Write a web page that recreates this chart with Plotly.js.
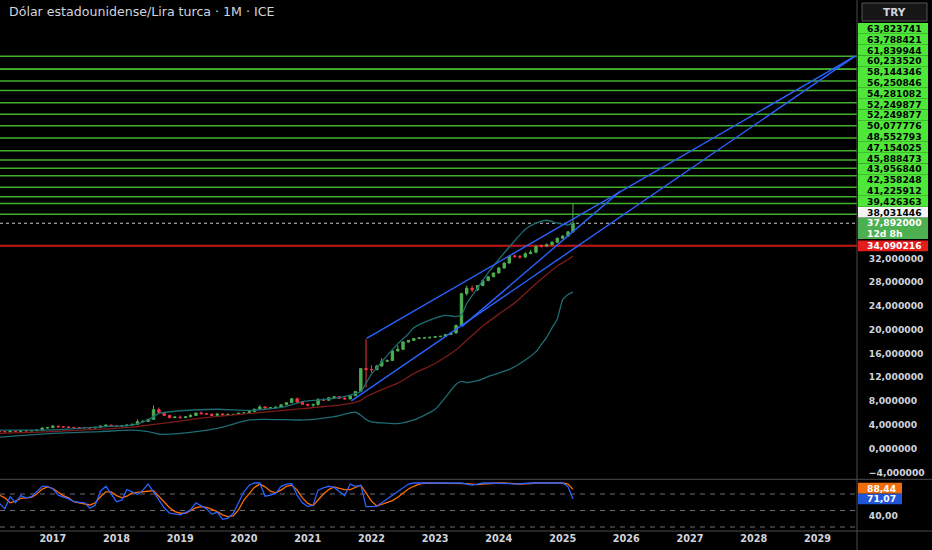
<!DOCTYPE html>
<html><head><meta charset="utf-8">
<script src="https://cdn.plot.ly/plotly-3.0.1.min.js"></script>
<style>html,body{margin:0;padding:0;background:#000;}#chart{width:932px;height:550px;}</style>
</head><body><div id="chart"></div>
<script>
// ---------- DATA ----------
const titleText = 'Dólar estadounidense/Lira turca · 1M · ICE';
const currencyLabel = 'TRY';
const startYear = 2016, startMonth = 3;   // first monthly candle: Mar 2016

const openV = [2.90,2.83,2.80,2.92,2.88,3.00,2.96,3.00,3.10,3.43,
 3.52,3.77,3.64,3.63,3.54,3.53,3.52,3.51,3.45,3.56,3.80,3.93,
 3.79,3.77,3.80,3.95,4.07,4.51,4.56,4.91,6.54,6.05,5.57,5.19,
 5.29,5.18,5.33,5.55,5.97,5.84,5.79,5.57,5.82,5.65,5.72,5.74,
 5.95,5.97,6.22,6.61,7.00,6.81,6.85,6.97,7.35,7.71,8.36,7.83,
 7.43,7.30,7.42,8.24,8.12,8.54,8.70,8.46,8.33,8.86,9.58,13.45,
 13.28,13.25,13.87,14.67,14.82,16.42,16.69,17.93,18.19,18.51,18.60,18.62,
 18.71,18.80,18.88,19.17,19.43,20.71,26.05,26.97,26.69,27.41,28.24,28.89,
 29.53,30.35,31.20,32.40,32.32,32.20,32.78,33.03,34.10,34.05,34.29,34.70,
 35.36,35.73,36.45];
const highV = [2.94,2.87,2.99,2.96,3.08,3.00,3.02,3.13,3.59,3.59,
 3.94,3.78,3.74,3.76,3.63,3.57,3.59,3.56,3.59,3.84,3.99,3.94,
 3.82,3.82,3.99,4.13,4.92,4.80,4.97,7.24,6.90,6.12,5.67,5.45,
 5.57,5.38,5.84,6.02,6.24,5.96,5.80,5.92,5.83,5.94,5.80,5.97,
 6.00,6.23,6.71,7.27,7.05,6.90,6.99,7.43,7.80,8.49,8.58,7.98,
 7.48,7.47,8.48,8.47,8.64,8.79,8.80,8.65,8.92,9.64,13.52,18.36,
 14.04,14.05,15.20,14.95,16.50,17.38,18.00,18.25,18.56,18.68,18.68,18.76,
 18.85,18.94,19.20,19.50,20.86,26.20,27.40,27.39,27.47,28.41,28.96,29.58,
 30.57,31.33,32.51,32.67,32.55,33.00,33.40,34.20,34.30,34.50,34.90,35.50,
 35.90,36.60,41.20];
const lowV = [2.82,2.78,2.80,2.86,2.87,2.89,2.92,2.98,3.08,3.36,
 3.51,3.59,3.58,3.54,3.50,3.49,3.51,3.44,3.39,3.55,3.80,3.75,
 3.72,3.73,3.78,3.93,4.05,4.50,4.55,4.91,5.98,5.56,5.13,5.18,
 5.15,5.16,5.28,5.54,5.80,5.69,5.51,5.48,5.60,5.64,5.67,5.70,
 5.85,5.95,6.10,6.60,6.73,6.76,6.84,6.96,7.34,7.70,7.59,7.38,
 7.10,6.92,7.19,8.02,8.10,8.41,8.36,8.29,8.32,8.86,9.51,10.25,
 12.75,13.20,13.80,14.55,14.80,16.30,16.60,17.80,18.10,18.40,18.50,18.55,
 18.68,18.76,18.86,19.15,19.40,20.65,25.75,26.30,26.50,27.30,28.20,28.85,
 29.46,30.28,31.11,32.05,31.95,32.10,32.70,32.80,33.80,34.00,34.20,34.60,
 35.20,35.60,36.30];
const closeV = [2.83,2.80,2.92,2.88,3.00,2.96,3.00,3.10,3.43,3.52,
 3.77,3.64,3.63,3.54,3.53,3.52,3.51,3.45,3.56,3.80,3.93,3.79,
 3.77,3.80,3.95,4.07,4.51,4.56,4.91,6.54,6.05,5.57,5.19,5.29,
 5.18,5.33,5.55,5.97,5.84,5.79,5.57,5.82,5.65,5.72,5.74,5.95,
 5.97,6.22,6.61,7.00,6.81,6.85,6.97,7.35,7.71,8.36,7.83,7.43,
 7.30,7.42,8.24,8.12,8.54,8.70,8.46,8.33,8.86,9.58,13.45,13.28,
 13.25,13.87,14.67,14.82,16.42,16.69,17.93,18.19,18.51,18.60,18.62,18.71,
 18.80,18.88,19.17,19.43,20.71,26.05,26.97,26.69,27.41,28.24,28.89,29.53,
 30.35,31.20,32.35,32.32,32.20,32.78,33.03,33.98,34.05,34.29,34.70,35.36,
 35.73,36.45,37.89];

// Bollinger-type bands (month index -> value)
const bbUpperIdx = [0,10,19,25,28,30,34,41,47,50,54,57,60,63,66,68,69,70,71,72,75,77,78,81,84,86,87,88,90,91,92,94,96,99,101,103,105,107,108];
const bbUpperVal = [3.10,3.12,3.65,3.95,4.8,5.9,6.35,6.6,6.4,6.6,7.1,7.9,8.15,8.45,9.0,9.6,11.0,12.5,13.6,14.6,17.6,19.3,20.3,21.6,22.4,22.2,22.5,24.4,27.0,28.3,29.6,31.8,33.9,36.9,37.9,38.4,37.9,37.6,37.9];
const bbLowerIdx = [0,10,19,25,28,30,34,41,47,50,54,57,60,63,66,67,68,69,70,72,75,78,82,84,86,87,88,90,92,94,96,99,101,102,103,104,105,106,107,108];
const bbLowerVal = [1.9,2.55,2.85,3.1,2.85,2.4,2.55,3.4,4.8,4.9,4.85,4.8,5.0,5.35,6.0,6.1,5.6,4.9,4.5,4.3,4.2,4.8,6.6,8.6,10.8,11.3,11.1,11.4,12.1,12.7,13.3,14.9,16.3,17.5,18.7,20.3,21.8,25.0,25.9,26.3];
const bbBasisIdx = [0,10,19,25,28,34,38,47,57,63,66,68,69,72,75,78,82,86,88,91,94,97,100,102,105,107,108];
const bbBasisVal = [2.55,2.85,3.25,3.6,3.95,4.6,5.1,5.9,6.7,7.2,7.6,8.1,8.7,9.9,11.0,12.6,14.3,16.6,18.2,20.6,22.6,24.5,26.9,28.5,30.7,31.8,32.4];

// Drawn trend lines
const trendADates = ['2021-12-04','2029-08-04']; const trendAVals = [18.54, 66.0];
const trendBDates = ['2023-06-03','2025-11-28']; const trendBVals = [20.5, 43.3];
const trendCDates = ['2021-09-08','2029-08-04']; const trendCVals = [8.0, 66.0];

// Horizontal levels
const greenLevels = [65.98,63.823741,63.788421,61.839944,60.233520,58.144346,56.250846,54.281082,52.249877,50.077776,48.552793,47.154025,45.888473,43.956840,42.358248,41.225912,39.426363];
const greenLabelLevels = [63.823741,63.788421,61.839944,60.233520,58.144346,56.250846,54.281082,52.249877,52.249877,50.077776,48.552793,47.154025,45.888473,43.956840,42.358248,41.225912,39.426363];
const whiteLevel = 38.031446;
const lastPrice = 37.892000;
const countdownText = '12d 8h';
const redLevel = 34.090216;
const priceTicks = [-4,0,4,8,12,16,20,24,28,32];

// Stochastic (%K blue, %D orange), one value per month
const stochK = [63,53,75,64,77,73,75,85,94,94,
 89,78,75,71,66,65,64,54,60,85,94,80,
 66,69,88,84,79,87,98,84,69,55,45,43,
 42,46,51,64,59,53,43,47,34,36,45,65,
 84,96,100,100,76,78,81,94,98,99,78,64,
 57,60,87,91,94,92,85,77,98,94,96,57,
 57,58,64,71,78,84,92,98,100,100,100,100,
 100,100,100,99,100,100,98,96,98,100,100,100,
 100,99,99,98,99,100,100,100,100,99,100,100,
 100,93,71.07];
const stochD = [78,73,64,67,72,73,74,80,89,93,
 90,83,77,73,66,64,62,60,64,75,84,84,
 77,73,76,82,83,84.5,85,86,75,64,55,48,
 45,45,50,55,57,55.5,52,48,42,39,40,51,
 69,80,92,98,93,85,82,87,94,96,87,73,
 63,59,69,80,88,93,90,88,88,92,96,82,
 67,58,61,65,68,74,82,89,94,98,100,100,
 100,100,100,100,100,100,99,98,97,98,99,100,
 100,100,100,99,98,98,99,100,100,100,100,100,
 100,98,88.44];
const stochLevels = [80,50,20];
const stochTicks = [40];

// ---------- LAYOUT CONSTANTS ----------
const W = 932, H = 550;
const M = {l:0, r:75, t:0, b:19};
const PLOT_W = W - M.l - M.r, PLOT_H = H - M.t - M.b;
const SPLIT = 51.7 / PLOT_H;            // stochastic pane height fraction
const MAIN_RANGE = [-5.18, 75.45];
const ST_RANGE = [12.7, 106.7];
const X_RANGE = ['2016-03-04', '2029-08-15'];

const GREEN = '#4caf50', RED = '#f23645';
const LEVEL_GREEN = '#42b02c', LABEL_GREEN = '#4fe83a';
const BLUE = '#2962ff', ORANGE = '#ff6d00';
const TEAL = '#1d6c74', BASIS = '#7d1a1a', TXT = '#d1d4dc', BORDER = '#4a4a4a';
const FONT = '"DejaVu Sans", Verdana, sans-serif';
const LBL_FONT = {family:FONT, size:9.2, weight:'bold'};

function monthStr(i){ const m = startMonth - 1 + i; const y = startYear + Math.floor(m/12); return y + '-' + String(m%12 + 1).padStart(2,'0') + '-01'; }
const dates = openV.map((_, i) => monthStr(i));
const mainPx = v => (1 - SPLIT) * PLOT_H * (MAIN_RANGE[1] - v) / (MAIN_RANGE[1] - MAIN_RANGE[0]);
const stPx = v => (1 - SPLIT) * PLOT_H + SPLIT * PLOT_H * (ST_RANGE[1] - v) / (ST_RANGE[1] - ST_RANGE[0]);
const pyPaper = py => (PLOT_H - py) / PLOT_H;
const pxPaper = px => px / PLOT_W;
const fmt = (v, d) => v.toFixed(d).replace('.', ',');

// ---------- TRACES ----------
const line = (x, y, color, width, yaxis, extra) => Object.assign({type:'scatter', mode:'lines', x, y, yaxis: yaxis || 'y', xaxis:'x', line:{color, width}, hoverinfo:'skip'}, extra || {});
const smooth = c => ({line:{color:c, width:1.3, shape:'spline', smoothing:0.6}});
const traces = [
  line(bbUpperIdx.map(monthStr), bbUpperVal, TEAL, 1.3, 'y', smooth(TEAL)),
  line(bbLowerIdx.map(monthStr), bbLowerVal, TEAL, 1.3, 'y', smooth(TEAL)),
  line(bbBasisIdx.map(monthStr), bbBasisVal, BASIS, 1.3, 'y', smooth(BASIS)),
  {type:'candlestick', x:dates, open:openV, high:highV, low:lowV, close:closeV, xaxis:'x', yaxis:'y',
   increasing:{line:{color:GREEN, width:1}, fillcolor:GREEN},
   decreasing:{line:{color:RED, width:1}, fillcolor:RED}, whiskerwidth:0, hoverinfo:'skip'},
  line(trendADates, trendAVals, BLUE, 1.4),
  line(trendBDates, trendBVals, BLUE, 1.4),
  line(trendCDates, trendCVals, BLUE, 1.4),
  line(dates, stochD, ORANGE, 1.3, 'y2'),
  line(dates, stochK, BLUE, 1.3, 'y2')
];

// ---------- SHAPES ----------
const shapes = [];
greenLevels.forEach(v => shapes.push({type:'line', xref:'paper', yref:'y', x0:0, x1:1, y0:v, y1:v, line:{color:LEVEL_GREEN, width:1.5}, layer:'below'}));
shapes.push({type:'line', xref:'paper', yref:'y', x0:0, x1:1, y0:redLevel, y1:redLevel, line:{color:'#c41818', width:2}, layer:'below'});
shapes.push({type:'line', xref:'paper', yref:'y', x0:0, x1:1, y0:lastPrice, y1:lastPrice, line:{color:'#c8c8c8', width:1, dash:'dot'}, layer:'below'});
stochLevels.forEach(v => shapes.push({type:'line', xref:'paper', yref:'y2', x0:0, x1:1, y0:v, y1:v, line:{color:'#6a6d78', width:1, dash:'5px,5px'}, layer:'below'}));
// pane borders
[ (1 - SPLIT) * PLOT_H, PLOT_H ].forEach(py => shapes.push({type:'line', xref:'paper', yref:'paper', x0:0, x1:pxPaper(W), y0:pyPaper(py), y1:pyPaper(py), line:{color:BORDER, width:1}}));
shapes.push({type:'line', xref:'paper', yref:'paper', x0:1, x1:1, y0:pyPaper(H), y1:1, line:{color:BORDER, width:1}});

// ---------- PRICE LABELS (stacked like the price scale) ----------
const annotations = [];
const LH = 10.8, BX0 = pxPaper(PLOT_W + 1), BX1 = pxPaper(PLOT_W + 71), TX = pxPaper(PLOT_W + 9);
function box(cy, h, color, x1){ shapes.push({type:'rect', xref:'paper', yref:'paper', x0:BX0, x1:x1 || BX1, y0:pyPaper(cy + h/2), y1:pyPaper(cy - h/2), fillcolor:color, line:{width:0}}); }
function txt(text, cy, color){ annotations.push({xref:'paper', yref:'paper', x:TX, y:pyPaper(cy), xanchor:'left', yanchor:'middle', text, showarrow:false, font:Object.assign({color}, LBL_FONT), borderpad:0}); }

const redCy = mainPx(redLevel);
box(redCy, LH, '#e51c1c'); txt(fmt(redLevel, 6), redCy, '#ffffff');
const priceTop = mainPx(lastPrice) - 5.8;
box(priceTop + 10.8, 21.6, GREEN); txt(fmt(lastPrice, 6), priceTop + LH/2, '#ffffff'); txt(countdownText, priceTop + LH*1.5, '#ffffff');
let prev = Math.min(mainPx(whiteLevel), priceTop - LH/2);
box(prev, LH, '#f5f5f5'); txt(fmt(whiteLevel, 6), prev, '#000000');
greenLabelLevels.slice().sort((a,b) => a - b).forEach(v => {
  const cy = Math.min(mainPx(v), prev - LH);
  box(cy, LH, LABEL_GREEN); txt(fmt(v, 6), cy, '#000000');
  prev = cy;
});
// stochastic labels
const kLast = stochK[stochK.length-1], dLast = stochD[stochD.length-1];
const kCy = stPx(kLast), dCy = Math.min(stPx(dLast), kCy - LH);
box(kCy, LH, '#2155d8', pxPaper(PLOT_W + 45)); txt(fmt(kLast, 2), kCy, '#ffffff');
box(dCy, LH, '#ef6c0c', pxPaper(PLOT_W + 45)); txt(fmt(dLast, 2), dCy, '#ffffff');

// currency box + title
shapes.push({type:'rect', xref:'paper', yref:'paper', x0:pxPaper(862), x1:pxPaper(927), y0:pyPaper(21), y1:pyPaper(3), fillcolor:'#161616', line:{color:'#555', width:1}});
annotations.push({xref:'paper', yref:'paper', x:pxPaper(894.5), y:pyPaper(12), xanchor:'center', yanchor:'middle', text:currencyLabel, showarrow:false, font:{family:FONT, size:10.5, weight:'bold', color:TXT}});
annotations.push({xref:'paper', yref:'paper', x:pxPaper(7), y:pyPaper(11.5), xanchor:'left', yanchor:'middle', text:titleText, showarrow:false, font:{family:FONT, size:12.6, color:TXT}});

// ---------- LAYOUT ----------
const layout = {
  width:W, height:H, paper_bgcolor:'#000', plot_bgcolor:'#000', margin:Object.assign({pad:0}, M),
  showlegend:false, separators:',.', font:{family:FONT, color:TXT},
  xaxis:{type:'date', range:X_RANGE, anchor:'y2', domain:[0,1], showgrid:false, zeroline:false, showline:false,
         rangeslider:{visible:false}, tickformat:'%Y', dtick:'M12', tick0:'2017-01-01', ticks:'',
         tickfont:{family:FONT, size:9.7, weight:'bold', color:TXT}, fixedrange:true},
  yaxis:{domain:[SPLIT,1], range:MAIN_RANGE, side:'right', anchor:'x', tickvals:priceTicks, tickformat:'.6f',
         showgrid:false, zeroline:false, showline:false, ticks:'outside', ticklen:9, tickcolor:'rgba(0,0,0,0)',
         tickfont:{family:FONT, size:9.2, weight:'bold', color:TXT}, fixedrange:true},
  yaxis2:{domain:[0,SPLIT], range:ST_RANGE, side:'right', anchor:'x', tickvals:stochTicks, tickformat:'.2f',
          showgrid:false, zeroline:false, showline:false, ticks:'outside', ticklen:9, tickcolor:'rgba(0,0,0,0)',
          tickfont:{family:FONT, size:9.2, weight:'bold', color:TXT}, fixedrange:true},
  shapes, annotations
};
Plotly.newPlot('chart', traces, layout, {staticPlot:true, displayModeBar:false});
</script></body></html>
